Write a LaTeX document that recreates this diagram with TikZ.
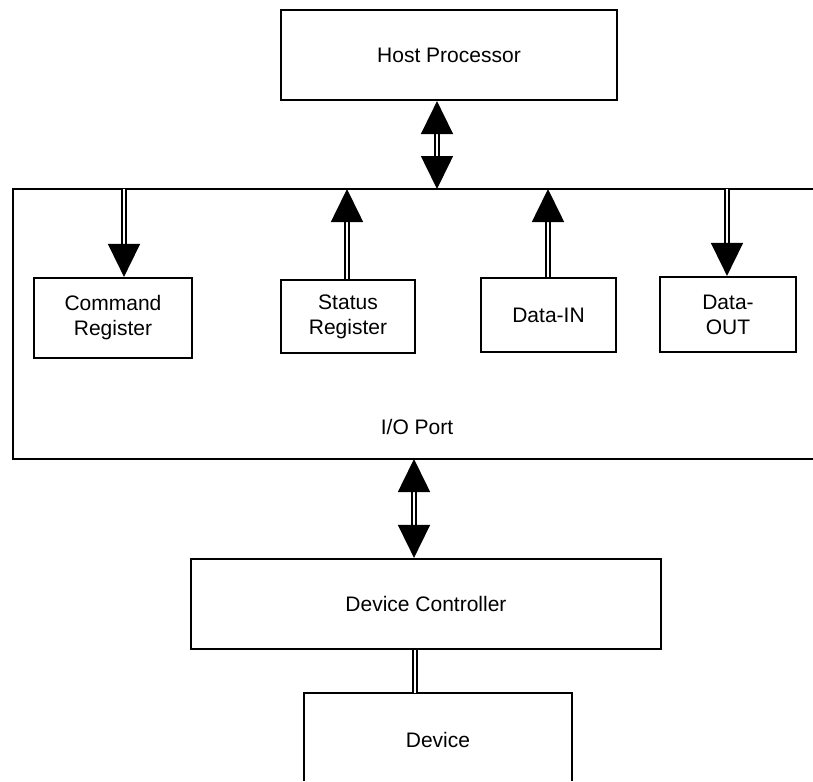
\documentclass[tikz,border=0pt]{standalone}
\usepackage{fontspec}
\setmainfont{Liberation Sans}
\usetikzlibrary{arrows.meta}

\tikzset{
  blk/.style={draw, line width=2.2pt, align=center, inner sep=0pt,
    font=\fontsize{21}{25}\selectfont},
  lbl/.style={font=\fontsize{21}{25}\selectfont},
  frame/.style={line width=2.2pt},
  bus/.style={double, line width=1.6pt, double distance=2.2pt}
}

\begin{document}
\begin{tikzpicture}[x=1pt, y=-1pt, >={Triangle[width=32pt,length=33pt]}]

\useasboundingbox (0,0) rectangle (813,781);

\node[blk, minimum width=336pt, minimum height=90pt] at (449,55) (host) {Host Processor};

\draw[frame] (813,189) -- (13,189) -- (13,459) -- (813,459);
\node[lbl] at (417,427) (io) {I/O Port};

\node[blk, minimum width=158pt, minimum height=80pt] at (113,318) (cmd) {Command\\Register};
\node[blk, minimum width=134pt, minimum height=73pt] at (348,316.5) (stat) {Status\\Register};
\node[blk, minimum width=135pt, minimum height=74pt] at (548.5,315) (din) {Data-IN};
\node[blk, minimum width=136pt, minimum height=75pt] at (728,314.5) (dout) {Data-\\OUT};

\node[blk, minimum width=470pt, minimum height=90pt] at (426,604) (dc) {Device Controller};

\node[lbl] at (438,740) (dev) {Device};
\draw[frame] (304,781) |- (572,693) -- (572,781);

\coordinate (pt) at (437,189);
\coordinate (bc) at (124,189);
\coordinate (bs) at (347,189);
\coordinate (bi) at (548,189);
\coordinate (bo) at (727,189);
\coordinate (pb) at (414,459);
\coordinate (dl) at (415,693);

\draw[bus, <->] (pt |- host.south) -- (pt);
\draw[bus, ->] (bc) -- (bc |- cmd.north);
\draw[bus, ->] (bs |- stat.north) -- (bs);
\draw[bus, ->] (bi |- din.north) -- (bi);
\draw[bus, ->] (bo) -- (bo |- dout.north);
\draw[bus, <->] (pb) -- (pb |- dc.north);
\draw[bus] (dl |- dc.south) -- (dl);

\end{tikzpicture}
\end{document}
